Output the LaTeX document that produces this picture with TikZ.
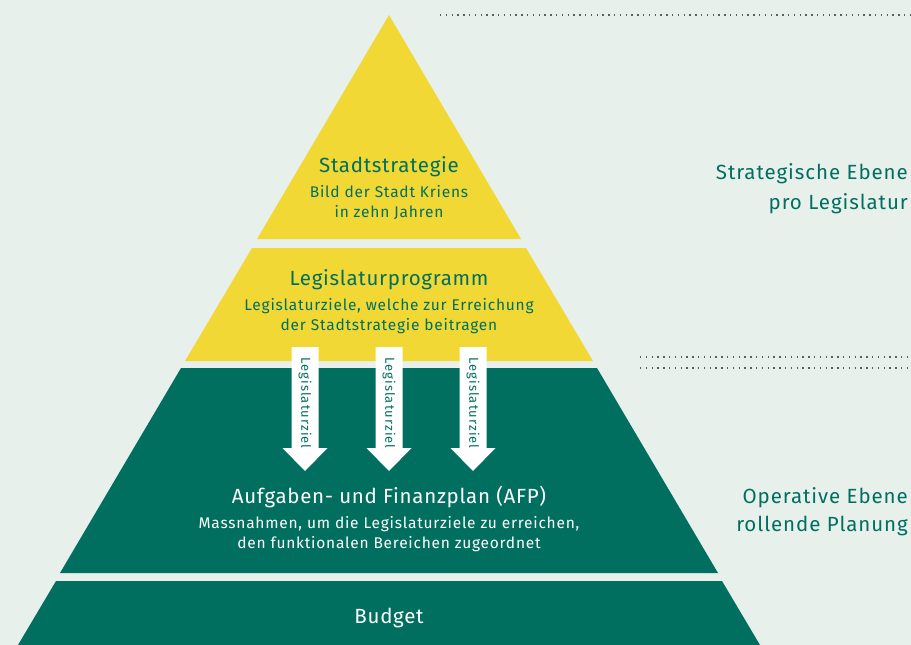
\documentclass[tikz,border=0pt]{standalone}
\usepackage{fontspec}
\setmainfont{Fira Sans}
\newfontfamily\headfont{Fira Sans}[LetterSpace=3.5]
\newfontfamily\subfont{Fira Sans}[LetterSpace=5]
\newfontfamily\sidefont{Fira Sans}[LetterSpace=4.5]
\newfontfamily\arrfont{Fira Sans}[LetterSpace=8]
\definecolor{bg}{HTML}{E8F0EC}
\definecolor{yel}{HTML}{F2D834}
\definecolor{grn}{HTML}{006F5F}
\definecolor{dotc}{HTML}{5A5F5C}
\begin{document}
\begin{tikzpicture}[x=1pt,y=-1pt,
  head/.style={font=\headfont\fontsize{20.5}{22}\selectfont, inner sep=0pt, anchor=base},
  sub/.style={font=\subfont\fontsize{15.5}{20}\selectfont, inner sep=0pt, anchor=base},
  side/.style={font=\sidefont\fontsize{20.5}{30}\selectfont, text=grn, inner sep=0pt, anchor=base east},
  dotline/.style={dotc, line width=1.3pt, dash pattern=on 1.3pt off 4.5pt},
  arrowbox/.style={fill=white, draw=none},
  arrowlabel/.style={font=\arrfont\fontsize{13}{14}\selectfont, text=grn, rotate=-90, inner sep=0pt}
]
\fill[bg] (0,0) rectangle (911,645);
\useasboundingbox (0,0) rectangle (911,645);

% bands
\fill[yel] (389,15) -- (521,239) -- (257,239) -- cycle;
\fill[yel] (252,248) -- (526,248) -- (593,361) -- (185,361) -- cycle;
\fill[grn] (181,368) -- (597,368) -- (718,573) -- (60,573) -- cycle;
\fill[grn] (56,581) -- (722,581) -- (760,645) -- (18,645) -- cycle;

% dotted lines
\coordinate (d1a) at (440,15);  \coordinate (d1b) at (911,15);
\coordinate (d2a) at (640,357); \coordinate (d2b) at (911,357);
\coordinate (d3a) at (640,368); \coordinate (d3b) at (911,368);
\draw[dotline] (d1a) -- (d1b);
\draw[dotline] (d2a) -- (d2b);
\draw[dotline] (d3a) -- (d3b);

% arrows
\foreach \cx/\nm in {305/a1, 389/a2, 473/a3}{
  \fill[arrowbox] (\cx-13.5,347) -- (\cx+13.5,347) -- (\cx+13.5,448) -- (\cx+22.5,448)
     -- (\cx,471) -- (\cx-22.5,448) -- (\cx-13.5,448) -- cycle;
  \node[arrowlabel] (\nm) at (\cx,403) {Legislaturziel};
}

% texts
\node[head, text=grn] (t1) at (389,172) {Stadtstrategie};
\node[sub, text=grn] (t1a) at (389,197) {Bild der Stadt Kriens};
\node[sub, text=grn] (t1b) at (389,217) {in zehn Jahren};

\node[head, text=grn] (t2) at (389,285) {Legislaturprogramm};
\node[sub, text=grn] (t2a) at (389,310) {Legislaturziele, welche zur Erreichung};
\node[sub, text=grn] (t2b) at (389,330) {der Stadtstrategie beitragen};

\node[head, text=white] (t3) at (389,503) {Aufgaben- und Finanzplan (AFP)};
\node[sub, text=white] (t3a) at (389,528) {Massnahmen, um die Legislaturziele zu erreichen,};
\node[sub, text=white] (t3b) at (389,548) {den funktionalen Bereichen zugeordnet};

\node[head, text=white] (t4) at (389,623) {Budget};

\node[side] (s1) at (908,179) {Strategische Ebene};
\node[side] (s1b) at (908,209) {pro Legislatur};
\node[side] (s2) at (908,503) {Operative Ebene};
\node[side] (s2b) at (908,531) {rollende Planung};
\end{tikzpicture}
\end{document}
